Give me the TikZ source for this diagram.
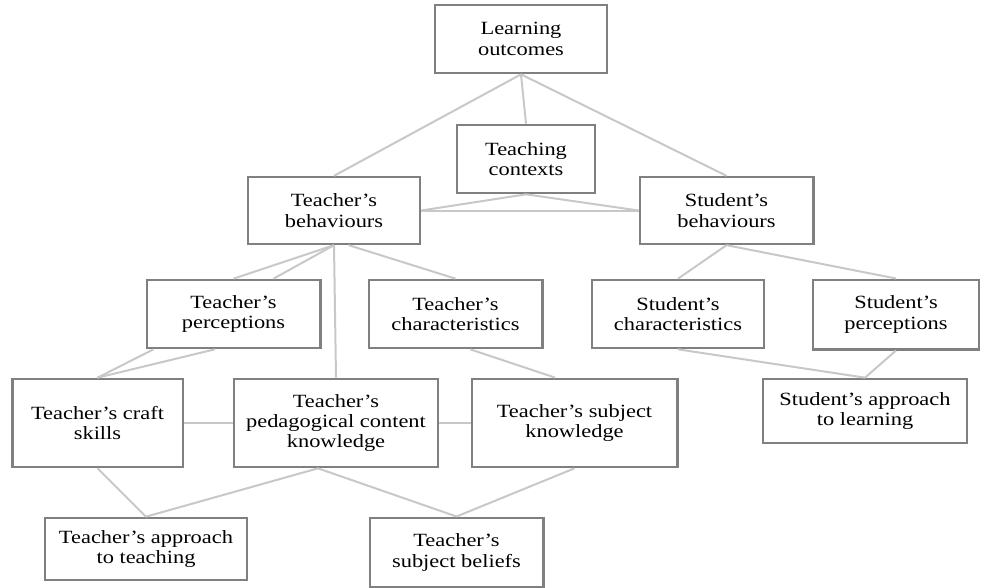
\documentclass[tikz,border=0pt]{standalone}
\usepackage{fontspec}
\setmainfont[FakeStretch=1.2]{Liberation Serif}
\usepackage{xcolor}
\usepackage{tikz}
\usetikzlibrary{positioning}
\definecolor{frame}{RGB}{128,128,128}
\definecolor{wire}{RGB}{200,200,200}

\begin{document}
\begin{tikzpicture}[x=0.75pt,y=-0.75pt,
  font=\fontsize{14pt}{15.2pt}\selectfont,
  box/.style={draw=frame,line width=2pt,fill=white,align=center,inner sep=2pt},
  link/.style={draw=wire,line width=1.5pt}]
  \useasboundingbox (0,0) rectangle (981,588);
  % upper rows
  \node[box,minimum width=129pt,minimum height=51pt] (lo) at (521,39) {Learning\\outcomes};
  \node[box,minimum width=103.5pt,minimum height=51pt] (tc) at (526,159) {Teaching\\contexts};
  \node[box,minimum width=129pt,minimum height=50pt] (tb) at (334,210.5) {Teacher’s\\behaviours};
  \node[box,minimum width=130pt,minimum height=50pt] (sb) at (726.5,210.5) {Student’s\\behaviours};
  \node[box,minimum width=130pt,minimum height=51pt] (tp) at (233.5,314) {Teacher’s\\perceptions};
  \node[box,minimum width=130pt,minimum height=51pt] (tch) at (455.5,314) {Teacher’s\\characteristics};
  \node[box,minimum width=129pt,minimum height=51pt] (sch) at (678,314) {Student’s\\characteristics};
  \node[box,minimum width=124.5pt,minimum height=52pt] (sp) at (896,314.5) {Student’s\\perceptions};
  % lower rows
  \node[box,minimum width=128pt,minimum height=66pt] (cs) at (97.5,423) {Teacher’s craft\\skills};
  \node[box,minimum width=153pt,minimum height=66pt] (pck) at (336,423) {Teacher’s\\pedagogical content\\knowledge};
  \node[box,minimum width=154pt,minimum height=66pt] (tsk) at (574.5,423) {Teacher’s subject\\knowledge};
  \node[box,minimum width=153pt,minimum height=48pt] (sal) at (865,411) {Student’s approach\\to learning};
  \node[box,minimum width=151.5pt,minimum height=46.5pt] (tat) at (146,549) {Teacher’s approach\\to teaching};
  \node[box,minimum width=130pt,minimum height=52pt] (tsb) at (456.5,552.5) {Teacher’s\\subject beliefs};
  % connectors
  \draw[link] (lo.south) -- (tb.north);
  \draw[link] (lo.south) -- (tc.north);
  \draw[link] (lo.south) -- (sb.north);
  \draw[link] (tc.south) -- (tb.east);
  \draw[link] (tc.south) -- (sb.west);
  \draw[link] (tb.east) -- (sb.west);
  \draw[link] (tb.south) -- (tp.north);
  \draw[link] (tb.south) -- ([xshift=30pt]tp.north);
  \draw[link] (tb.south) -- (pck.north);
  \draw[link] ([xshift=11pt]tb.south) -- (tch.north);
  \draw[link] (sb.south) -- (sch.north);
  \draw[link] (sb.south) -- (sp.north);
  \draw[link] ([xshift=-60pt]tp.south) -- (cs.north);
  \draw[link] ([xshift=-14pt]tp.south) -- (cs.north);
  \draw[link] ([xshift=11pt]tch.south) -- ([xshift=-14.5pt]tsk.north);
  \draw[link] (sch.south) -- (sal.north);
  \draw[link] (sp.south) -- (sal.north);
  \draw[link] (cs.east) -- (pck.west);
  \draw[link] (pck.east) -- (tsk.west);
  \draw[link] (cs.south) -- (tat.north);
  \draw[link] ([xshift=-13.5pt]pck.south) -- (tat.north);
  \draw[link] ([xshift=-13.5pt]pck.south) -- (tsb.north);
  \draw[link] (tsk.south) -- (tsb.north);
\end{tikzpicture}
\end{document}
